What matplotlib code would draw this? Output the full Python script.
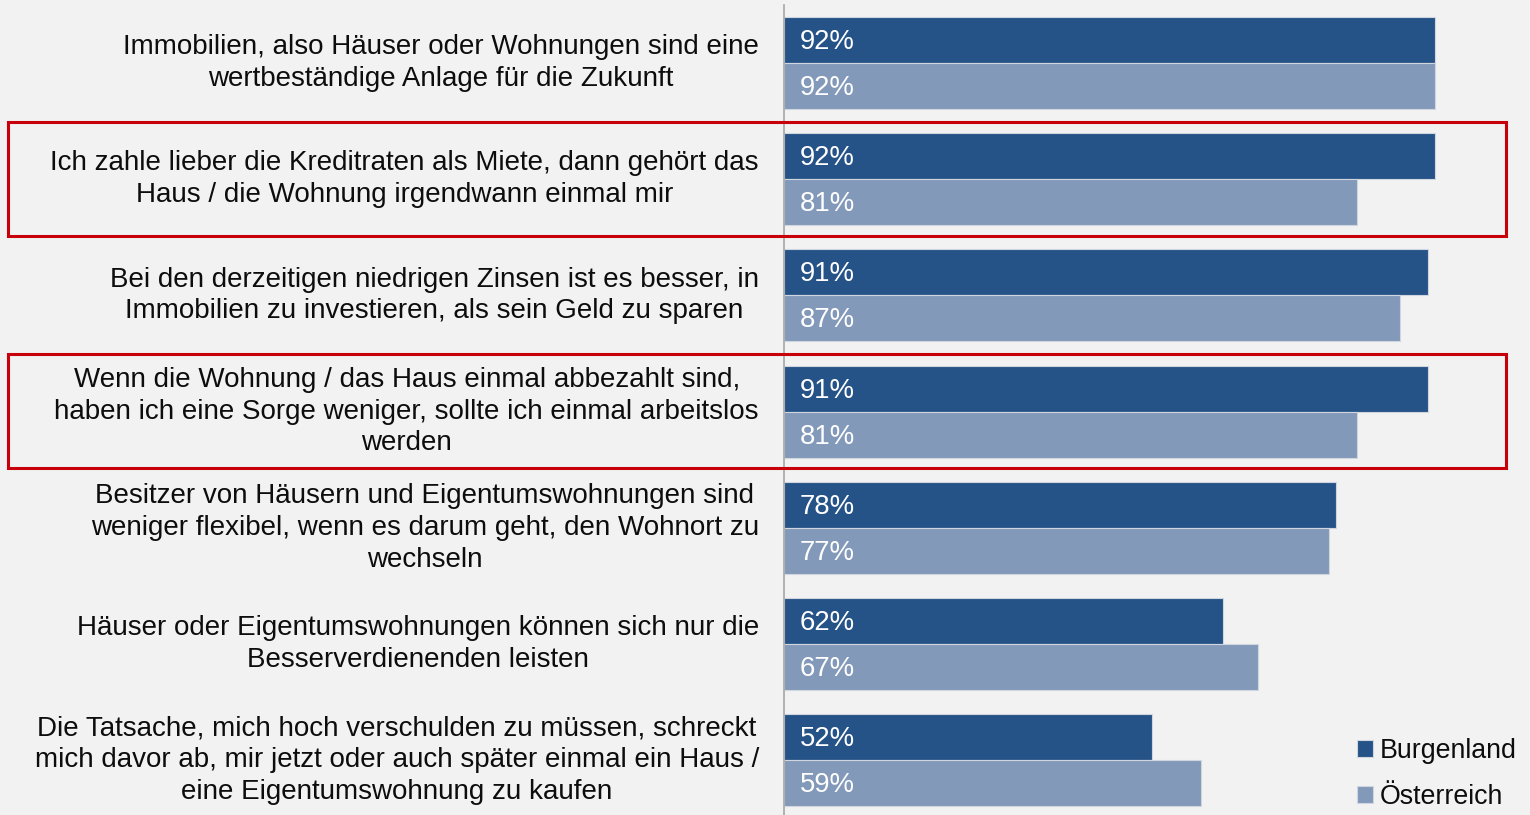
import numpy as np
import matplotlib.pyplot as plt
from matplotlib.patches import Rectangle
import matplotlib.transforms as mtransforms

plt.rcParams['font.family'] = ['Liberation Sans', 'DejaVu Sans']

# Daten (Zustimmung in %)
aussagen = [
    "Immobilien, also Häuser oder Wohnungen sind eine\nwertbeständige Anlage für die Zukunft",
    "Ich zahle lieber die Kreditraten als Miete, dann gehört das\nHaus / die Wohnung irgendwann einmal mir",
    "Bei den derzeitigen niedrigen Zinsen ist es besser, in\nImmobilien zu investieren, als sein Geld zu sparen",
    "Wenn die Wohnung / das Haus einmal abbezahlt sind,\nhaben ich eine Sorge weniger, sollte ich einmal arbeitslos\nwerden",
    "Besitzer von Häusern und Eigentumswohnungen sind\nweniger flexibel, wenn es darum geht, den Wohnort zu\nwechseln",
    "Häuser oder Eigentumswohnungen können sich nur die\nBesserverdienenden leisten",
    "Die Tatsache, mich hoch verschulden zu müssen, schreckt\nmich davor ab, mir jetzt oder auch später einmal ein Haus /\neine Eigentumswohnung zu kaufen",
]
burgenland = [92, 92, 91, 91, 78, 62, 52]
oesterreich = [92, 81, 87, 81, 77, 67, 59]
markiert = [1, 3]  # rot umrahmte Aussagen

c_bgld = '#265387'
c_oe = '#8399b9'
bg = '#f2f2f2'

fig = plt.figure(figsize=(15.3, 8.15), dpi=100, facecolor=bg)
ax = fig.add_axes([784/1530, 0, 707.6/1530, 1 - 5/815])
ax.set_facecolor(bg)

y = np.arange(len(aussagen))
h = 0.396
ax.barh(y - h/2, burgenland, height=h, color=c_bgld, edgecolor='#d0d6e0', linewidth=0.8, label='Burgenland')
ax.barh(y + h/2, oesterreich, height=h, color=c_oe, edgecolor='#d0d6e0', linewidth=0.8, label='Österreich')

ax.set_xlim(0, 100)
ax.set_ylim(6.473, -0.5)

# Werte in den Balken
for i in range(len(y)):
    ax.annotate('{}%'.format(burgenland[i]), xy=(0, y[i] - h/2), xytext=(11.5, -1.5),
                textcoords='offset points', va='center', ha='left', color='white', fontsize=19.8)
    ax.annotate('{}%'.format(oesterreich[i]), xy=(0, y[i] + h/2), xytext=(11.5, -1.5),
                textcoords='offset points', va='center', ha='left', color='white', fontsize=19.8)
    # Aussagen links
    ax.annotate(aussagen[i], xy=(0, y[i]), xytext=(-18, 0), textcoords='offset points',
                va='center', ha='right', multialignment='center', fontsize=20,
                color='#0d0d0d', linespacing=1.29)

for s in ['top', 'right', 'bottom']:
    ax.spines[s].set_visible(False)
ax.spines['left'].set_color('#a6a6a6')
ax.spines['left'].set_linewidth(1.2)
ax.set_xticks([])
ax.set_yticks([])

# rote Rahmen
trans = mtransforms.blended_transform_factory(fig.transFigure, ax.transData)
for k in markiert:
    r = Rectangle((8/1530, k - 0.492), 1498/1530, 0.982, transform=trans, fill=False,
                  edgecolor='#c8000a', linewidth=2.2, clip_on=False)
    fig.add_artist(r)

ax.legend(loc='lower right', bbox_to_anchor=(1.0505, -0.007), frameon=False, fontsize=19.3,
          handlelength=0.6, handleheight=0.6, handletextpad=0.25, labelspacing=0.76,
          borderaxespad=0, labelcolor='#0d0d0d')

fig.savefig('out.png', dpi=100, facecolor=bg)
